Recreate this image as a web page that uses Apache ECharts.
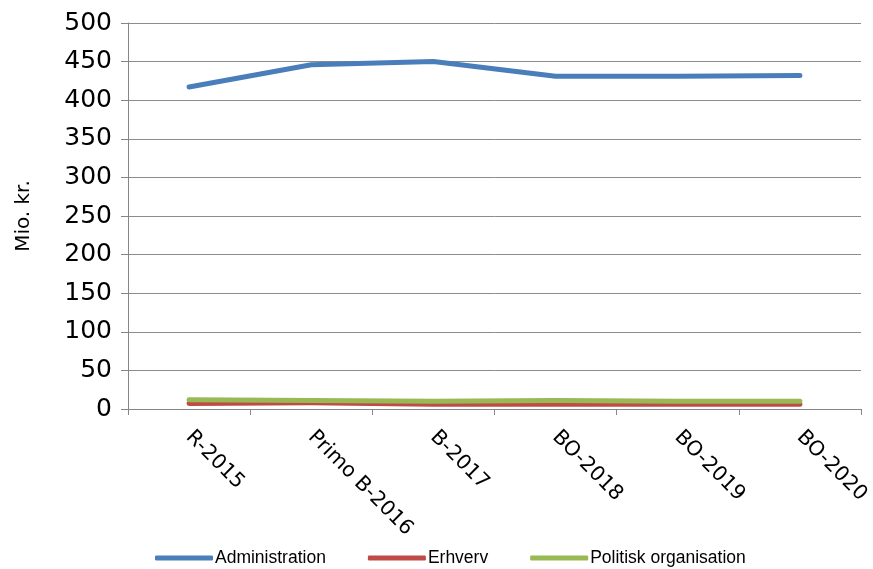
<!DOCTYPE html>
<html><head><meta charset="utf-8">
<script src="https://cdn.jsdelivr.net/npm/echarts@6/dist/echarts.min.js"></script>
<style>html,body{margin:0;padding:0;background:#fff}#c{width:873px;height:569px}</style>
</head><body><div id="c"></div>
<script>
const categories = ['R-2015', 'Primo B-2016', 'B-2017', 'BO-2018', 'BO-2019', 'BO-2020'];
const administration = [417, 446, 450, 431, 431, 432];
const erhverv = [7, 8, 6, 6, 6, 6];
const politisk = [12, 11, 10, 11, 10, 10];
const seriesNames = ['Administration', 'Erhverv', 'Politisk organisation'];
const colors = ['#4a7ebb', '#be4b48', '#98b954'];

const chart = echarts.init(document.getElementById('c'));
const mk = (name, data, color) => ({
  name, type: 'line', data, symbol: 'none', smooth: false,
  lineStyle: { color, width: 5, cap: 'round', join: 'round' },
  itemStyle: { color }
});
chart.setOption({
  animation: false,
  grid: { left: 128, right: 11, top: 23, bottom: 160 },
  legend: {
    bottom: -3, left: 150, itemWidth: 58, itemHeight: 5, itemGap: 42,
    icon: 'roundRect',
    textStyle: { fontFamily: 'Liberation Sans', fontSize: 17.5, color: '#000', padding: [0, 0, 0, -3] },
    data: seriesNames
  },
  xAxis: {
    type: 'category', data: categories, boundaryGap: true,
    axisLine: { lineStyle: { color: '#868686', width: 1 } },
    axisTick: { show: true, length: 6, lineStyle: { color: '#868686' } },
    axisLabel: { rotate: -45, fontFamily: 'DejaVu Sans', fontSize: 20.5, color: '#000', margin: 25, interval: 0 }
  },
  yAxis: {
    type: 'value', min: 0, max: 500, interval: 50,
    name: 'Mio. kr.', nameLocation: 'middle', nameGap: 94, nameRotate: 90,
    nameTextStyle: { fontFamily: 'DejaVu Sans', fontSize: 20, color: '#000' },
    axisLine: { show: true, lineStyle: { color: '#868686', width: 1 } },
    axisTick: { show: true, inside: false, length: 7, lineStyle: { color: '#868686' } },
    axisLabel: { fontFamily: 'DejaVu Sans', fontSize: 25, color: '#000', margin: 16 },
    splitLine: { show: true, lineStyle: { color: '#8c8c8c', width: 1 } }
  },
  series: [
    mk(seriesNames[0], administration, colors[0]),
    mk(seriesNames[1], erhverv, colors[1]),
    mk(seriesNames[2], politisk, colors[2])
  ]
});
</script></body></html>
